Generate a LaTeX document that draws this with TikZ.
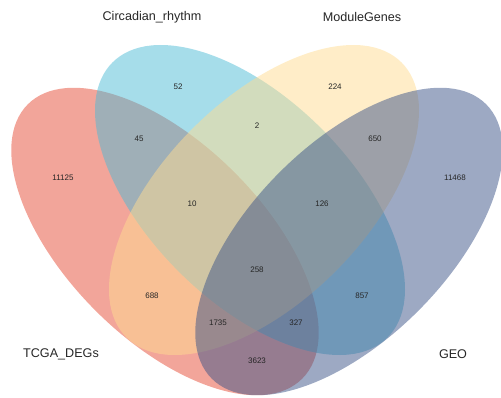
\documentclass[tikz,border=0pt]{standalone}
\usepackage{fontspec}
\setmainfont{Liberation Sans}
\definecolor{cTCGA}{HTML}{E64B35}
\definecolor{cCirc}{HTML}{4DBBD5}
\definecolor{cMod}{HTML}{FFDC91}
\definecolor{cGEO}{HTML}{3C5488}
\tikzset{
  setfill/.style={fill=#1, fill opacity=0.5, draw=none},
  num/.style={inner sep=0pt, font=\fontsize{8}{9}\selectfont, text=black!85},
  catlab/.style={inner sep=0pt, font=\fontsize{12.6}{14}\selectfont, text=black!85}
}
\begin{document}
\begin{tikzpicture}[x=1pt,y=1pt]
\useasboundingbox (0,0) rectangle (501,397);
\clip (0,0) rectangle (501,397);
% ellipses (image y converted: Y = 397 - y)
\fill[setfill=cTCGA, rotate around={-45:(165,155.5)}] (165,155.5) ellipse [x radius=194, y radius=98];
\fill[setfill=cCirc, rotate around={-45:(250,197)}] (250,197) ellipse [x radius=194.5, y radius=101];
\fill[setfill=cMod, rotate around={45:(264,197)}] (264,197) ellipse [x radius=194.5, y radius=101];
\fill[setfill=cGEO, rotate around={45:(349,155.5)}] (349,155.5) ellipse [x radius=194, y radius=98];
% category labels
\node[catlab] (lCirc) at (152,380) {Circadian\_rhythm};
\node[catlab] (lMod) at (362,380) {ModuleGenes};
\node[catlab] (lTCGA) at (61,43) {TCGA\_DEGs};
\node[catlab] (lGEO) at (453,43) {GEO};
% counts
\node[num] (n52) at (178,310) {52};
\node[num] (n224) at (335,310) {224};
\node[num] (n45) at (139,258) {45};
\node[num] (n2) at (257,271) {2};
\node[num] (n650) at (375,258) {650};
\node[num] (n11125) at (63,219) {11125};
\node[num] (n11468) at (455,219) {11468};
\node[num] (n10) at (192,193) {10};
\node[num] (n126) at (322,193) {126};
\node[num] (n258) at (257,127) {258};
\node[num] (n688) at (152,101) {688};
\node[num] (n857) at (362,101) {857};
\node[num] (n1735) at (218,74) {1735};
\node[num] (n327) at (296,74) {327};
\node[num] (n3623) at (257,36) {3623};
\end{tikzpicture}
\end{document}
